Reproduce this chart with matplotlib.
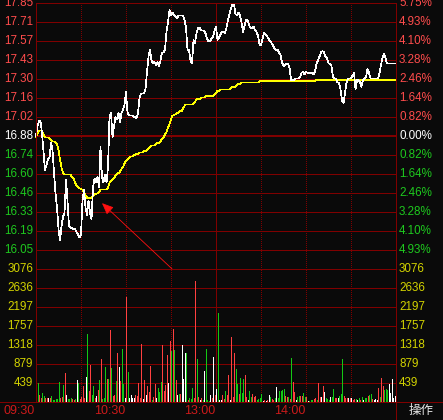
import numpy as np
import matplotlib
matplotlib.use("Agg")
import matplotlib.pyplot as plt
from matplotlib.lines import Line2D

# ---------------- data ----------------
prev_close = 16.88
limit_pct = 5.75  # percent span of the price panel (top/bottom)

price = [
    16.88, 16.95, 16.99, 16.99, 16.90, 16.76, 16.63, 16.67, 16.71, 16.72,
    16.83, 16.78, 16.61, 16.46, 16.36, 16.20, 16.12, 16.22, 16.29, 16.32,
    16.56, 16.41, 16.22, 16.21, 16.21, 16.20, 16.20, 16.18, 16.16, 16.14,
    16.16, 16.41, 16.49, 16.36, 16.30, 16.41, 16.32, 16.27, 16.50, 16.57,
    16.54, 16.58, 16.51, 16.80, 16.58, 16.54, 16.60, 16.54, 16.65, 17.02,
    17.05, 16.87, 16.95, 17.02, 17.00, 17.05, 16.98, 17.05, 17.07, 17.11,
    17.20, 17.05, 17.03, 17.03, 17.03, 17.02, 17.02, 17.01, 17.05, 17.16,
    17.19, 17.19, 17.19, 17.22, 17.35, 17.46, 17.51, 17.43, 17.41, 17.42,
    17.40, 17.42, 17.39, 17.43, 17.49, 17.49, 17.51, 17.64, 17.71, 17.80,
    17.76, 17.78, 17.76, 17.75, 17.74, 17.76, 17.76, 17.76, 17.76, 17.73,
    17.67, 17.51, 17.51, 17.43, 17.41, 17.58, 17.56, 17.63, 17.67, 17.67,
    17.65, 17.65, 17.65, 17.63, 17.59, 17.57, 17.57, 17.59, 17.60, 17.65,
    17.68, 17.58, 17.60, 17.62, 17.64, 17.64, 17.63, 17.67, 17.73, 17.77,
    17.81, 17.84, 17.84, 17.77, 17.76, 17.78, 17.76, 17.71, 17.64, 17.68,
    17.73, 17.73, 17.69, 17.67, 17.67, 17.68, 17.65, 17.64, 17.61, 17.55,
    17.54, 17.59, 17.63, 17.62, 17.61, 17.59, 17.57, 17.56, 17.54, 17.52,
    17.51, 17.51, 17.49, 17.47, 17.42, 17.39, 17.40, 17.41, 17.41, 17.38,
    17.29, 17.29, 17.29, 17.30, 17.30, 17.30, 17.31, 17.34, 17.35, 17.33,
    17.35, 17.34, 17.34, 17.34, 17.34, 17.33, 17.35, 17.41, 17.43, 17.46,
    17.49, 17.50, 17.49, 17.46, 17.45, 17.41, 17.41, 17.39, 17.31, 17.30,
    17.30, 17.27, 17.27, 17.22, 17.14, 17.12, 17.19, 17.27, 17.30, 17.30,
    17.30, 17.32, 17.34, 17.22, 17.29, 17.29, 17.27, 17.24, 17.29, 17.30,
    17.31, 17.37, 17.34, 17.30, 17.30, 17.30, 17.30, 17.30, 17.30, 17.34,
    17.40, 17.45, 17.48, 17.45, 17.41, 17.41, 17.41, 17.41, 17.41, 17.41,
    17.41,
]

avg_price = [
    16.87, 16.90, 16.92, 16.92, 16.92, 16.89, 16.87, 16.87, 16.87, 16.86,
    16.85, 16.84, 16.84, 16.83, 16.82, 16.78, 16.71, 16.65, 16.61, 16.60,
    16.60, 16.60, 16.60, 16.60, 16.58, 16.57, 16.54, 16.52, 16.51, 16.50,
    16.49, 16.49, 16.47, 16.45, 16.43, 16.43, 16.43, 16.43, 16.44, 16.45,
    16.46, 16.46, 16.47, 16.49, 16.49, 16.49, 16.49, 16.49, 16.50, 16.54,
    16.55, 16.56, 16.57, 16.59, 16.60, 16.61, 16.62, 16.64, 16.65, 16.68,
    16.70, 16.71, 16.72, 16.73, 16.73, 16.74, 16.74, 16.75, 16.75, 16.76,
    16.76, 16.76, 16.77, 16.77, 16.78, 16.79, 16.80, 16.81, 16.81, 16.81,
    16.82, 16.83, 16.83, 16.84, 16.86, 16.87, 16.89, 16.91, 16.94, 16.97,
    17.00, 17.03, 17.03, 17.04, 17.05, 17.05, 17.06, 17.06, 17.08, 17.10,
    17.11, 17.11, 17.11, 17.11, 17.11, 17.12, 17.13, 17.15, 17.15, 17.15,
    17.16, 17.16, 17.16, 17.17, 17.17, 17.17, 17.17, 17.17, 17.17, 17.18,
    17.19, 17.21, 17.21, 17.22, 17.22, 17.22, 17.22, 17.22, 17.22, 17.22,
    17.23, 17.24, 17.24, 17.24, 17.25, 17.26, 17.26, 17.27, 17.27, 17.27,
    17.27, 17.27, 17.27, 17.27, 17.27, 17.27, 17.27, 17.27, 17.27, 17.28,
    17.28, 17.28, 17.28, 17.28, 17.28, 17.28, 17.28, 17.28, 17.28, 17.28,
    17.28, 17.28, 17.28, 17.28, 17.28, 17.28, 17.28, 17.28, 17.28, 17.28,
    17.28, 17.28, 17.28, 17.28, 17.28, 17.28, 17.28, 17.28, 17.28, 17.28,
    17.28, 17.28, 17.28, 17.28, 17.28, 17.28, 17.28, 17.29, 17.29, 17.29,
    17.29, 17.29, 17.29, 17.29, 17.29, 17.29, 17.29, 17.29, 17.29, 17.29,
    17.29, 17.29, 17.29, 17.29, 17.29, 17.29, 17.29, 17.29, 17.29, 17.29,
    17.29, 17.29, 17.29, 17.29, 17.29, 17.29, 17.29, 17.29, 17.29, 17.29,
    17.29, 17.29, 17.29, 17.29, 17.29, 17.29, 17.29, 17.29, 17.29, 17.29,
    17.29, 17.29, 17.29, 17.29, 17.29, 17.29, 17.29, 17.29, 17.29, 17.29,
    17.29,
]

volume = [
    300, 430, 160, 100, 215, 140, 100, 90, 100, 100,
    140, 45, 45, 60, 60, 460, 90, 120, 400, 680,
    160, 60, 80, 100, 60, 50, 60, 510, 430, 80,
    120, 360, 100, 585, 1570, 250, 855, 160, 370, 100,
    140, 280, 510, 990, 70, 85, 800, 530, 530, 1665,
    785, 140, 160, 490, 1130, 810, 480, 1220, 420, 85,
    2435, 700, 100, 160, 85, 100, 160, 140, 450, 85,
    1340, 80, 500, 160, 370, 240, 830, 45, 120, 415,
    85, 320, 240, 460, 1320, 255, 390, 1090, 440, 1410,
    1180, 1680, 1200, 510, 160, 185, 185, 1320, 540, 1130,
    1130, 45, 85, 70, 320, 85, 2800, 990, 120, 45,
    100, 45, 720, 1220, 45, 25, 160, 85, 1030, 160,
    300, 2065, 40, 45, 160, 70, 255, 160, 625, 45,
    1510, 120, 1140, 770, 415, 185, 560, 200, 530, 625,
    120, 45, 255, 120, 185, 120, 140, 45, 70, 85,
    185, 25, 45, 25, 45, 160, 120, 75, 45, 85,
    355, 100, 255, 255, 275, 300, 140, 120, 120, 75,
    1020, 460, 230, 40, 120, 140, 140, 140, 200, 120,
    120, 25, 25, 45, 45, 60, 85, 45, 440, 110,
    120, 370, 230, 85, 60, 45, 110, 120, 310, 100,
    85, 85, 140, 175, 995, 140, 85, 85, 85, 100,
    85, 45, 70, 70, 45, 85, 45, 120, 45, 100,
    100, 140, 160, 185, 70, 45, 70, 45, 315, 120,
    550, 370, 280, 300, 280, 410, 200, 540, 100, 150,
    1110,
]

# tick direction of each minute: u = up, d = down, f = flat
tick_dir = "".join([
    "uduudduufu", "dddddduudu", "fddduudfdu", "uuufduuddu", "fududddudu",
    "duudufuddf", "udffffuuuu", "ufufuuuduu", "fddduuuufu", "dudufdufff",
    "duddduuduf", "udfdddfufu", "fdffuuduuf", "uuuddudddu", "ufdduuuddd",
    "dfufufduud", "fddddduudu", "duufdduudd", "ufddduuduu", "fufdddfddu",
    "ufddduuufu", "fuudfdudfd", "duddufffud", "uudddfffff", "f",
])

price_labels = ["17.85", "17.71", "17.57", "17.43", "17.30", "17.16", "17.02",
                "16.88", "16.74", "16.60", "16.46", "16.33", "16.19", "16.05"]
pct_labels = ["5.75%", "4.93%", "4.10%", "3.28%", "2.46%", "1.64%", "0.82%",
              "0.00%", "0.82%", "1.64%", "2.46%", "3.28%", "4.10%", "4.93%"]
vol_labels = ["3076", "2636", "2197", "1757", "1318", "879", "439"]
vol_max = 3076
time_labels = ["09:30", "10:30", "13:00", "14:00"]
time_label_minutes = [0, 60, 120, 180]
session_minutes = 240
arrow_tip = (44, 16.39)     # (minute, price)
arrow_tail = (90.7, 15.91)  # (minute, price)
op_label = "操作"

# ---------------- style ----------------
BG = "#0a0a0a"
GRID = "#800000"
RED = "#ff4040"
GREEN = "#14c814"
WHITE = "#ffffff"
YEL_LINE = "#ffff00"
YEL_TXT = "#d2d200"
LBL_RED = "#ff4c4c"
LBL_GREEN = "#1ec81e"
TIME_RED = "#cc1a1a"
FONT = "Liberation Sans"
FS = 8.4

W, H = 443, 420
fig = plt.figure(figsize=(W / 100, H / 100), dpi=100)
fig.patch.set_facecolor(BG)


def rect(x0, y0, x1, y1):
    return [x0 / W, 1 - y1 / H, (x1 - x0) / W, (y1 - y0) / H]


ax_p = fig.add_axes(rect(36, 3, 396, 269))
ax_v = fig.add_axes(rect(36, 269, 396, 402))
for ax in (ax_p, ax_v):
    ax.set_facecolor(BG)
    for s in ax.spines.values():
        s.set_visible(False)
    ax.set_xticks([])
    ax.set_yticks([])
    ax.set_xlim(0, session_minutes)

lo = prev_close * (1 - limit_pct / 100)
hi = prev_close * (1 + limit_pct / 100)
ax_p.set_ylim(lo, hi)
ax_v.set_ylim(0, vol_max)

minutes = np.arange(len(price))
LW1 = 0.72   # ~1 px
LWL = 0.5    # data lines, 1 px (non-antialiased)

# horizontal grid (price)
levels = np.linspace(lo, hi, 15)
for k, y in enumerate(levels):
    lw = 1.44 if k == 7 else LW1
    ax_p.axhline(y, color=GRID, lw=lw, zorder=1, antialiased=False, clip_on=False)
vlevels = np.linspace(0, vol_max, 8)
for y in vlevels[1:]:
    ax_v.axhline(y, color=GRID, lw=LW1, zorder=1, antialiased=False, clip_on=False)

# vertical grid
for ax in (ax_p, ax_v):
    for m in range(30, session_minutes, 30):
        if m == 120:
            ax.axvline(m, color=GRID, lw=LW1, zorder=1, antialiased=False)
        else:
            ax.axvline(m, color=GRID, lw=LW1, ls=(0, (1, 2)), zorder=1, antialiased=False)

# borders
fig.add_artist(Line2D([36 / W, 36 / W], [1 - 3 / H, 1 - 402 / H], color=GRID, lw=LW1, antialiased=False))
fig.add_artist(Line2D([396 / W, 396 / W], [1 - 3 / H, 0], color=GRID, lw=LW1, antialiased=False))
fig.add_artist(Line2D([0, 1], [1 - 402 / H, 1 - 402 / H], color=GRID, lw=LW1, antialiased=False))

# price + average
ax_p.plot(minutes, price, color=WHITE, lw=LWL, antialiased=False, zorder=4, clip_on=False)
ax_p.plot(minutes, avg_price, color=YEL_LINE, lw=LWL, antialiased=False, zorder=3, clip_on=False)

# volume bars
dir_color = {"u": RED, "d": GREEN, "f": WHITE}
bar_colors = [dir_color[c] for c in tick_dir]
ax_v.vlines(minutes, 0, volume, colors=bar_colors, lw=LW1, antialiased=False, zorder=3)

# arrow
ax_p.annotate("", xy=arrow_tip, xytext=arrow_tail, xycoords="data", textcoords="data",
              annotation_clip=False,
              arrowprops=dict(arrowstyle="-|>,head_length=0.7,head_width=0.3", color="#ff1010",
                              lw=0.6, shrinkA=0, shrinkB=0, mutation_scale=10))

# labels
tp_l = ax_p.get_yaxis_transform()
for k, (pl, cl) in enumerate(zip(price_labels, pct_labels)):
    y = levels[14 - k]
    v = float(pl)
    if abs(v - prev_close) < 1e-9:
        c = WHITE
    elif v > prev_close:
        c = LBL_RED
    else:
        c = LBL_GREEN
    ax_p.text(-3 / 360, y, pl, transform=tp_l, ha="right", va="center", color=c,
              fontsize=FS, family=FONT, clip_on=False)
    ax_p.text(1 + 3 / 360, y, cl, transform=tp_l, ha="left", va="center", color=c,
              fontsize=FS, family=FONT, clip_on=False)

tv_l = ax_v.get_yaxis_transform()
for k, lab in enumerate(vol_labels):
    y = vlevels[7 - k]
    ax_v.text(-3 / 360, y, lab, transform=tv_l, ha="right", va="center", color=YEL_TXT,
              fontsize=FS, family=FONT, clip_on=False)
    ax_v.text(1 + 3 / 360, y, lab, transform=tv_l, ha="left", va="center", color=YEL_TXT,
              fontsize=FS, family=FONT, clip_on=False)

tx = ax_v.get_xaxis_transform()
for m, lab in zip(time_label_minutes, time_labels):
    ax_v.text(m - 0.7, -9.5 / 133, lab, transform=tx, ha="right", va="center", color=TIME_RED,
              fontsize=FS + 0.6, family=FONT, clip_on=False)

fig.text(421 / W, 1 - 410 / H, op_label, ha="center", va="center", color="#e6e6e6",
         fontsize=FS + 0.6, family=["Noto Sans CJK SC", "DejaVu Sans"])

fig.savefig("out.png", dpi=100, facecolor=BG)
